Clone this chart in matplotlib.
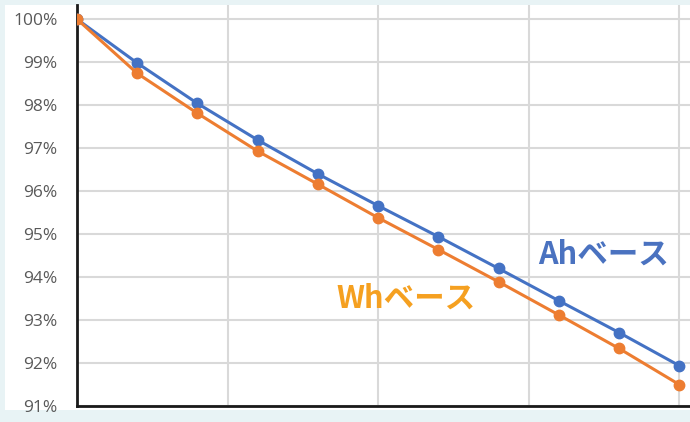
import matplotlib.pyplot as plt
from matplotlib.patches import Rectangle
from matplotlib.ticker import FuncFormatter, MultipleLocator

plt.rcParams['font.family'] = ['Noto Sans CJK JP', 'DejaVu Sans']

# cycle count and capacity retention (%)
cycles = [0, 100, 200, 300, 400, 500, 600, 700, 800, 900, 1000]
ah_base = [100.0, 98.98, 98.04, 97.19, 96.40, 95.66, 94.94, 94.20, 93.45, 92.71, 91.94]
wh_base = [100.0, 98.74, 97.81, 96.93, 96.16, 95.38, 94.64, 93.89, 93.12, 92.34, 91.50]

blue = '#4472C4'
orange = '#ED7D31'

fig = plt.figure(figsize=(6.9, 4.22), dpi=100)
fig.patch.set_facecolor('#e8f3f5')
# white panel inside the light frame
fig.patches.append(Rectangle((5 / 690, 12 / 422), 1.0, 1 - 17 / 422,
                             transform=fig.transFigure, facecolor='white',
                             edgecolor='none', zorder=-1))

ax = fig.add_axes([77 / 690, 1 - 406 / 422, 1 - 77 / 690, 401 / 422])
ax.set_facecolor('white')

ax.plot(cycles, ah_base, color=blue, lw=2.2, marker='o', ms=7.5, zorder=3)
ax.plot(cycles, wh_base, color=orange, lw=2.2, marker='o', ms=7.5, zorder=4)

ax.set_xlim(0, 1018)
ax.set_ylim(91, 100.33)
ax.xaxis.set_major_locator(MultipleLocator(250))
ax.yaxis.set_major_locator(MultipleLocator(1))
ax.yaxis.set_major_formatter(FuncFormatter(lambda v, p: f'{v:.0f}%'))
ax.grid(True, color='#d9d9d9', lw=1.5)
ax.set_axisbelow(True)
ax.tick_params(axis='x', length=0, labelbottom=False)
ax.tick_params(axis='y', length=0, pad=14, labelsize=12.5, labelcolor='#595959')
for lbl in ax.get_yticklabels():
    lbl.set_fontfamily('Open Sans')

for side in ['top', 'right']:
    ax.spines[side].set_visible(False)
for side in ['left', 'bottom']:
    ax.spines[side].set_color('#1a1a1a')
    ax.spines[side].set_linewidth(2)

ax.text(604 / 690, 1 - 255 / 422, 'Ahベース', transform=fig.transFigure,
        color='#4a72c0', fontsize=22, fontweight='bold', ha='center', va='center')
ax.text(406 / 690, 1 - 299 / 422, 'Whベース', transform=fig.transFigure,
        color='#f5a020', fontsize=22, fontweight='bold', ha='center', va='center')

fig.savefig('out.png', dpi=100)
